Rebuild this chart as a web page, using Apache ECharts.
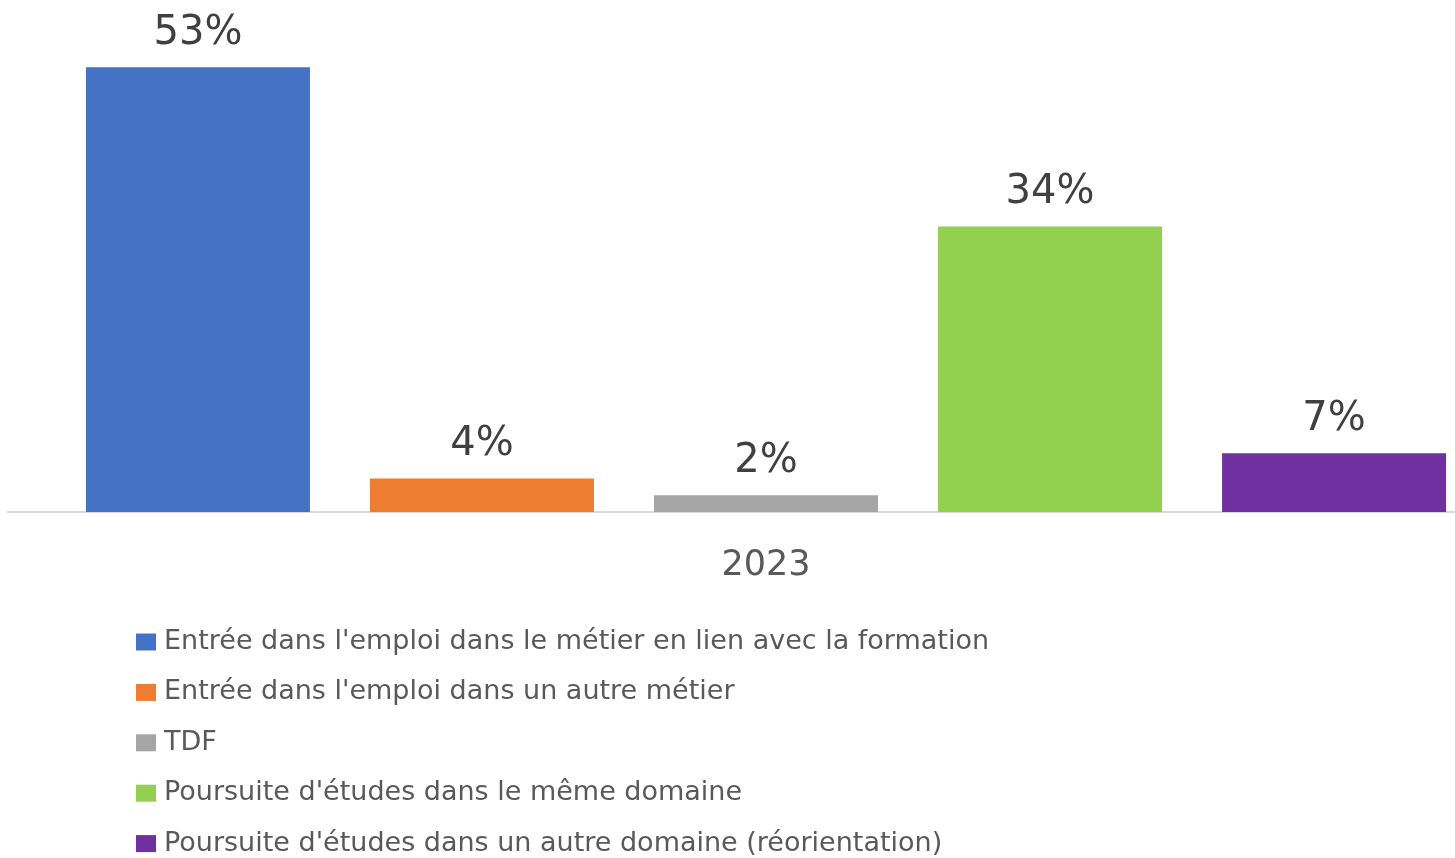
<!DOCTYPE html>
<html><head><meta charset="utf-8">
<script src="https://cdn.jsdelivr.net/npm/echarts@6/dist/echarts.min.js"></script>
<style>html,body{margin:0;padding:0;background:#fff}#c{width:1455px;height:858px}</style>
</head><body><div id="c"></div>
<script>
const categories = ['2023'];
const seriesNames = [
  "Entrée dans l'emploi dans le métier en lien avec la formation",
  "Entrée dans l'emploi dans un autre métier",
  "TDF",
  "Poursuite d'études dans le même domaine",
  "Poursuite d'études dans un autre domaine (réorientation)"
];
const values = [53, 4, 2, 34, 7];
const colors = ['#4472C4', '#ED7D31', '#A5A5A5', '#92D050', '#7030A0'];

const FONT = 'DejaVu Sans';
const chart = echarts.init(document.getElementById('c'), null, {renderer: 'canvas'});
chart.setOption({
  animation: false,
  textStyle: {fontFamily: FONT},
  grid: {left: 8, width: 1516, top: 0, height: 512, containLabel: false, outerBoundsMode: 'none'},
  xAxis: {
    type: 'category', data: categories,
    axisLine: {lineStyle: {color: '#d9d9d9', width: 2}},
    axisTick: {show: false},
    axisLabel: {color: '#595959', fontSize: 35, fontFamily: FONT, margin: 36}
  },
  yAxis: {type: 'value', min: 0, max: 61, show: false, splitLine: {show: false}},
  legend: {
    orient: 'vertical', left: 136, top: 627, height: 240, padding: 0,
    itemWidth: 20, itemHeight: 17, itemGap: 20.4,
    icon: 'rect',
    textStyle: {color: '#595959', fontSize: 27, fontFamily: FONT, lineHeight: 30, padding: [0,0,0,3]},
    data: seriesNames
  },
  series: seriesNames.map((n, i) => ({
    name: n, type: 'bar',
    data: [values[i]],
    barWidth: 224, barGap: '26.8%',
    itemStyle: {color: colors[i]},
    label: {show: true, position: 'top', distance: 14, formatter: '{c}%', color: '#404040', fontSize: 40, fontFamily: FONT}
  }))
});
</script></body></html>
